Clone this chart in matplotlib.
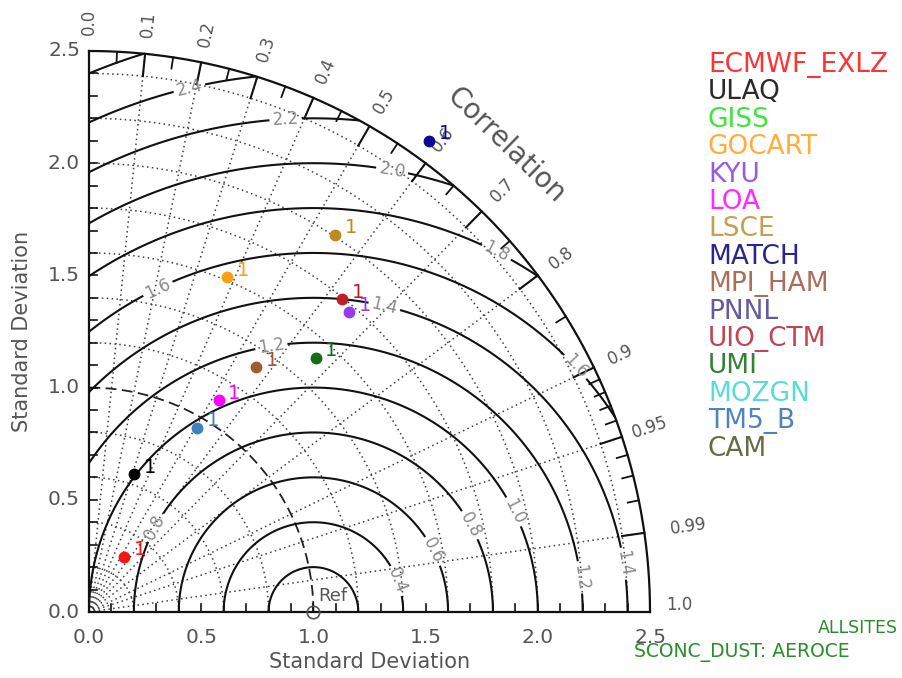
import numpy as np
import matplotlib
matplotlib.use('Agg')
import matplotlib.pyplot as plt

# ---------------- data ----------------
legend_models = ['ECMWF_EXLZ', 'ULAQ', 'GISS', 'GOCART', 'KYU', 'LOA', 'LSCE', 'MATCH',
                 'MPI_HAM', 'PNNL', 'UIO_CTM', 'UMI', 'MOZGN', 'TM5_B', 'CAM']
legend_colors = ['#ff3333', '#2a2a2a', '#3ce63c', '#ffad3c', '#9a5ae0', '#ff2aff', '#c4a050',
                 '#28288c', '#aa6e5a', '#645aa0', '#be4650', '#348234', '#5adcd2', '#5082be', '#646e46']

point_models = ['ECMWF_EXLZ', 'ULAQ', 'GOCART', 'KYU', 'LOA', 'LSCE', 'MATCH',
                'MPI_HAM', 'UIO_CTM', 'UMI', 'TM5_B']
point_std = [0.292, 0.646, 1.613, 1.768, 1.106, 2.008, 2.589, 1.320, 1.794, 1.518, 0.953]
point_corr = [0.538, 0.313, 0.381, 0.655, 0.522, 0.547, 0.585, 0.563, 0.629, 0.665, 0.507]
point_colors = ['#f51414', '#000000', '#fa9f14', '#963cf0', '#ff00ff', '#be8c1e', '#0a0a96',
                '#a05a32', '#be1e28', '#146e14', '#3c82be']
point_labels = ['1'] * 11

corr_ticks = [0.0, 0.1, 0.2, 0.3, 0.4, 0.5, 0.6, 0.7, 0.8, 0.9, 0.95, 0.99, 1.0]
corr_tick_labels = ['0.0', '0.1', '0.2', '0.3', '0.4', '0.5', '0.6', '0.7', '0.8', '0.9',
                    '0.95', '0.99', '1.0']
corr_minor = [0.05, 0.15, 0.25, 0.35, 0.45, 0.55, 0.65, 0.75, 0.85,
              0.91, 0.92, 0.93, 0.94, 0.96, 0.97, 0.98]
std_ticks = [0.0, 0.5, 1.0, 1.5, 2.0, 2.5]
std_tick_labels = ['0.0', '0.5', '1.0', '1.5', '2.0', '2.5']
std_arcs = [0.2, 0.4, 0.6, 0.8, 1.2, 1.4, 1.6, 1.8, 2.0, 2.2, 2.4]
ref_std = 1.0
rms_levels = [0.2, 0.4, 0.6, 0.8, 1.0, 1.2, 1.4, 1.6, 1.8, 2.0, 2.2, 2.4, 2.6]
rms_label_pos = [(1.40, 0.15), (1.55, 0.28), (1.72, 0.40), (0.29, 0.38), (1.90, 0.45),
                 (2.20, 0.156), (0.81, 1.20), (2.40, 0.218), (1.32, 1.38), (2.175, 1.10),
                 (0.30, 1.455), (1.824, 1.619), (1.352, 1.975), (0.876, 2.20), (0.445, 2.344)]
RMAX = 2.5

# ---------------- figure ----------------
fig = plt.figure(figsize=(9.03, 6.78), dpi=100)
ax = fig.add_axes([89 / 903, 66 / 678, 561 / 903, 561 / 678])
ax.set_xlim(0, RMAX)
ax.set_ylim(0, RMAX)
ax.set_aspect('equal')
ax.axis('off')

grey = '#555555'
dotc = '#404040'

# std dotted arcs
th = np.linspace(0, np.pi / 2, 400)
for r in std_arcs:
    ax.plot(r * np.cos(th), r * np.sin(th), color=dotc, lw=1.1, ls=(0, (1, 2.2)))
ax.plot(ref_std * np.cos(th), ref_std * np.sin(th), color='#222222', lw=1.3, ls=(0, (6, 3)))

# correlation rays
for c in corr_ticks[1:-1]:
    s = np.sqrt(1 - c ** 2)
    ax.plot([0, RMAX * c], [0, RMAX * s], color=dotc, lw=1.1, ls=(0, (1, 2.2)))

# RMS contours on polar grid
rr, tt = np.meshgrid(np.linspace(0, RMAX, 500), np.linspace(0, np.pi / 2, 500))
X = rr * np.cos(tt)
Y = rr * np.sin(tt)
D = np.sqrt((X - ref_std) ** 2 + Y ** 2)
cs = ax.contour(X, Y, D, levels=rms_levels, colors='#111111', linewidths=1.5)
ax.clabel(cs, fmt='%.1f', fontsize=12, colors='#8a8a8a', inline=True, inline_spacing=3,
          manual=rms_label_pos)

# outer arc and axes
ax.plot(RMAX * np.cos(th), RMAX * np.sin(th), color='#111111', lw=1.6, clip_on=False)
ax.plot([0, RMAX], [0, 0], color='#111111', lw=1.6, clip_on=False)
ax.plot([0, 0], [0, RMAX], color='#111111', lw=1.6, clip_on=False)

# outer arc ticks
for c in corr_ticks[1:-1]:
    s = np.sqrt(1 - c ** 2)
    ax.plot([RMAX * c, (RMAX - 0.1) * c], [RMAX * s, (RMAX - 0.1) * s], color='#111111', lw=1.5)
for c in corr_minor:
    s = np.sqrt(1 - c ** 2)
    ax.plot([RMAX * c, (RMAX - 0.05) * c], [RMAX * s, (RMAX - 0.05) * s], color='#111111', lw=1.3)

# correlation labels
for c, lab in zip(corr_ticks, corr_tick_labels):
    ang = np.arccos(c)
    if c < 0.97:
        rl = 2.63
    elif c < 1.0:
        rl = 2.70
    else:
        rl = 2.63
        ang = np.radians(0.7)
    ax.text(rl * np.cos(ang), rl * np.sin(ang), lab, rotation=np.degrees(ang),
            rotation_mode='anchor', ha='center', va='center', fontsize=12, color=grey)
ang = np.radians(48.2)
ax.text(2.79 * np.cos(ang), 2.79 * np.sin(ang), 'Correlation', rotation=-44,
        ha='center', va='center', fontsize=20, color=grey, rotation_mode='anchor')

# axis ticks
minor = np.arange(1, 25) * 0.1
for v in minor:
    ax.plot([v, v], [0, 0.035], color='#111111', lw=1.2)
    ax.plot([0, 0.035], [v, v], color='#111111', lw=1.2)

for v, lab in zip(std_ticks, std_tick_labels):
    ax.text(v, -0.115, lab, ha='center', va='center', fontsize=14.5, color=grey)
    ax.text(-0.04, v, lab, ha='right', va='center', fontsize=14.5, color=grey)

ax.text(1.25, -0.225, 'Standard Deviation', ha='center', va='center', fontsize=15, color=grey)
ax.text(-0.30, 1.25, 'Standard Deviation', ha='center', va='center', fontsize=15,
        color=grey, rotation=90)

# reference point
ax.plot([ref_std], [0], 'o', ms=9, mfc='none', mec=grey, mew=1.2, clip_on=False)
ax.text(ref_std + 0.02, 0.07, 'Ref', ha='left', va='center', fontsize=13, color=grey)

# model points
for m, r, c, col, lab in zip(point_models, point_std, point_corr, point_colors, point_labels):
    x = r * c
    y = r * np.sqrt(1 - c ** 2)
    ax.plot([x], [y], 'o', ms=7.5, color=col, mec=col, clip_on=False, zorder=5)
    ax.annotate(lab, (x, y), xytext=(7, 5), textcoords='offset points', fontsize=14,
                color=col, ha='left', va='center', annotation_clip=False, zorder=6)

# legend text
for i, (m, col) in enumerate(zip(legend_models, legend_colors)):
    fig.text(708 / 903, 1 - (65 + i * 27.4) / 678, m, ha='left', va='center',
             fontsize=19, color=col)

fig.text(898 / 903, 1 - 628 / 678, 'ALLSITES', ha='right', va='center', fontsize=12.5,
         color='#2a8c2a')
fig.text(634 / 903, 1 - 652 / 678, 'SCONC_DUST: AEROCE', ha='left', va='center',
         fontsize=13.5, color='#2a8c2a')

fig.savefig('out.png', dpi=100)
